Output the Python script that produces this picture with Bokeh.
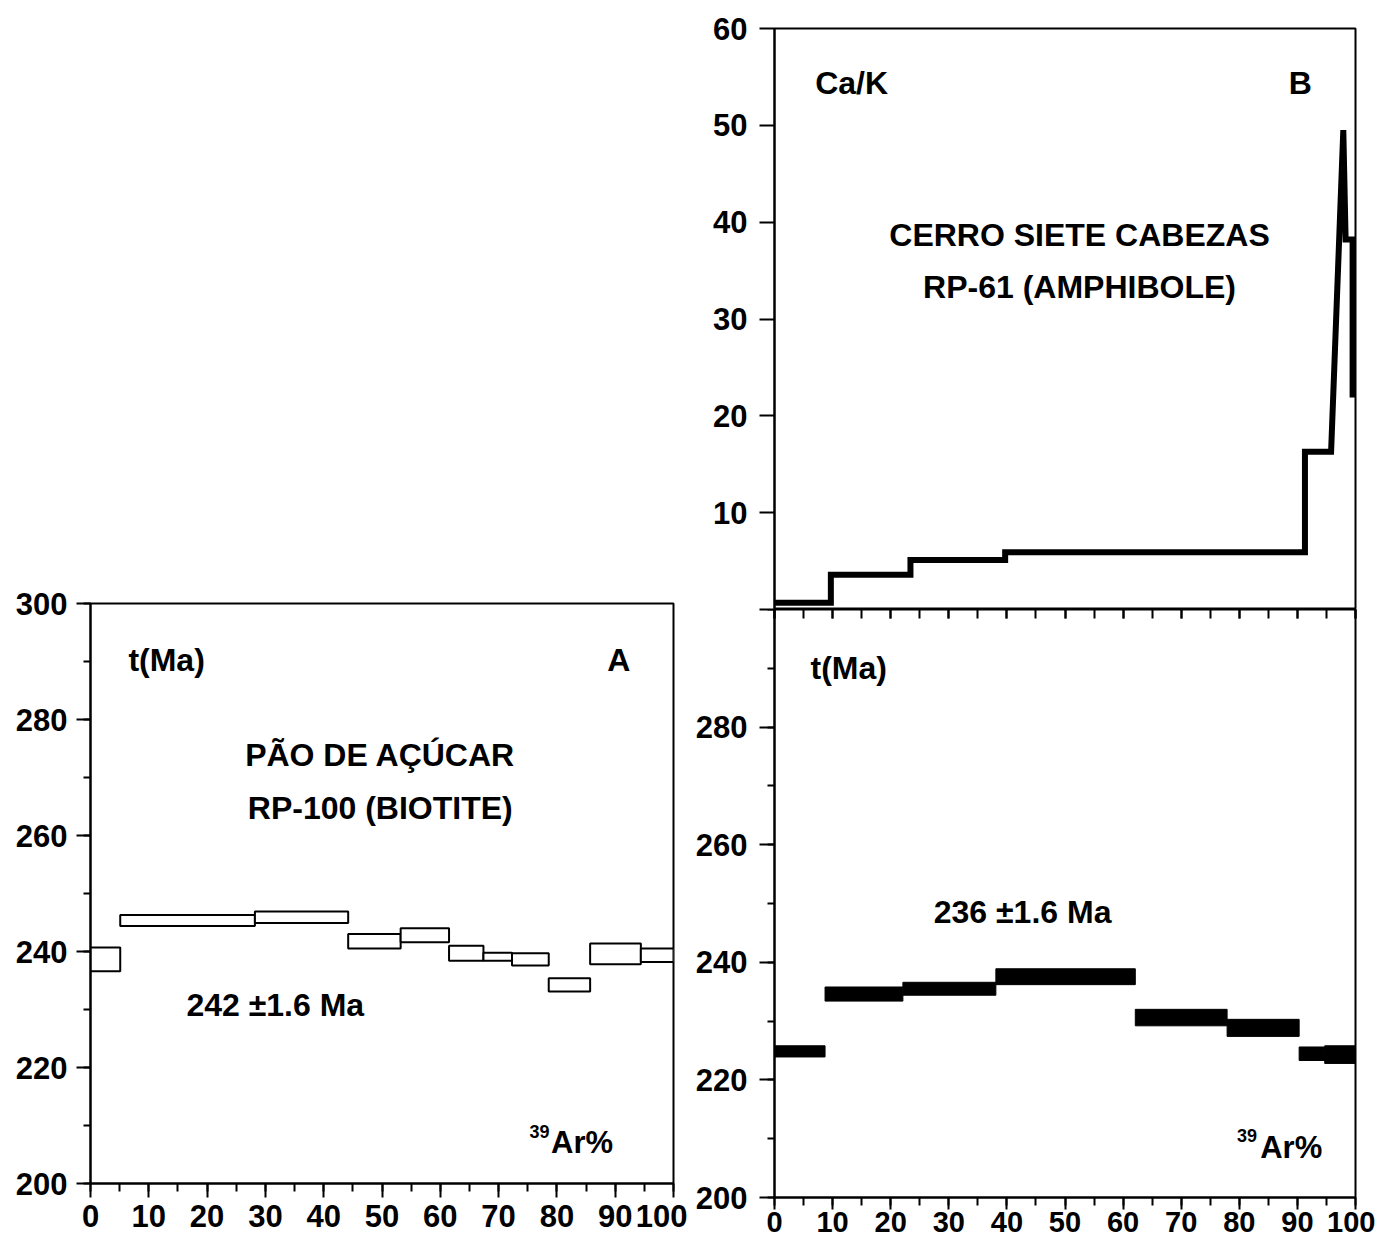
from bokeh.plotting import figure
from bokeh.layouts import row, column
from bokeh.models import SingleIntervalTicker, LinearAxis, Range1d
from bokeh.core.properties import value
from bokeh.embed import file_html
from bokeh.resources import INLINE

# ---------------- data ----------------
# Panel A : PÃO DE AÇÚCAR RP-100 (biotite) age spectrum, 39Ar% steps
a_step_left = [0, 5.1, 28.2, 44.2, 53.2, 61.5, 67.4, 72.3, 78.6, 85.7, 94.4]
a_step_right = [5.1, 28.2, 44.2, 53.2, 61.5, 67.4, 72.3, 78.6, 85.7, 94.4, 100]
a_age_top = [240.7, 246.3, 246.9, 243.0, 244.0, 241.0, 239.8, 239.7, 235.4, 241.4, 240.5]
a_age_bottom = [236.6, 244.4, 244.9, 240.5, 241.6, 238.4, 238.4, 237.6, 233.1, 237.8, 238.2]

# Panel B (lower) : CERRO SIETE CABEZAS RP-61 (amphibole) age spectrum
b_step_left = [0, 8.7, 22.1, 38.1, 62.1, 77.9, 90.3, 94.7]
b_step_right = [8.7, 22.1, 38.1, 62.1, 77.9, 90.3, 94.7, 100]
b_age_top = [225.8, 235.8, 236.6, 238.9, 232.0, 230.3, 225.6, 225.8]
b_age_bottom = [223.9, 233.4, 234.4, 236.2, 229.2, 227.4, 223.3, 222.8]

# Panel B (upper) : Ca/K spectrum (polyline vertices)
cak_x = [0, 9.7, 9.7, 23.4, 23.4, 39.7, 39.7, 91.3, 91.3, 95.8, 97.9, 98.3, 99.5, 99.5, 100.3]
cak_y = [0.7, 0.7, 3.6, 3.6, 5.1, 5.1, 5.9, 5.9, 16.3, 16.3, 49.5, 38.2, 38.2, 22.2, 22.2]

x_tick_step = 10
age_tick_step = 20
cak_tick_step = 10

FONT = "Liberation Sans"


def style_fig(p):
    p.grid.visible = False
    p.outline_line_color = "black"
    p.outline_line_width = 2
    p.background_fill_color = "white"
    p.border_fill_color = "white"


def style_axis(ax, tick_out, minor_out, standoff, size):
    ax.axis_line_color = "black"
    ax.axis_line_width = 2
    ax.major_tick_line_color = "black"
    ax.major_tick_line_width = 2
    ax.minor_tick_line_color = "black"
    ax.minor_tick_line_width = 2
    ax.major_tick_out = tick_out
    ax.major_tick_in = 0
    ax.minor_tick_out = minor_out
    ax.minor_tick_in = 0
    ax.major_label_text_font = FONT
    ax.major_label_text_font_style = "bold"
    ax.major_label_text_font_size = size
    ax.major_label_text_color = "black"
    ax.major_label_standoff = standoff


def add_text(p, x, y, txt, size, align="center"):
    p.text(x=[x], y=[y], text=[txt], text_font=value(FONT), text_font_style="bold",
           text_font_size=size, text_align=align, text_baseline="middle", text_color="black")


# ---------------- Panel A ----------------
pa = figure(width=687, height=1243, x_range=Range1d(0, 100), y_range=Range1d(200, 300),
            output_backend="svg", toolbar_location=None,
            min_border_left=90, min_border_right=14, min_border_top=603, min_border_bottom=60)
style_fig(pa)
pa.xaxis.ticker = SingleIntervalTicker(interval=x_tick_step, num_minor_ticks=2)
pa.yaxis.ticker = SingleIntervalTicker(interval=age_tick_step, num_minor_ticks=2)
style_axis(pa.xaxis[0], 14, 8, 7, "31px")
style_axis(pa.yaxis[0], 14, 7, 9, "31px")
pa.quad(left=a_step_left, right=a_step_right, top=a_age_top, bottom=a_age_bottom,
        fill_color="white", line_color="black", line_width=2)
add_text(pa, 6.5, 290.2, "t(Ma)", "32px", "left")
add_text(pa, 90.6, 290.2, "A", "32px")
add_text(pa, 49.7, 273.8, "PÃO DE AÇÚCAR", "32px")
add_text(pa, 49.7, 264.7, "RP-100 (BIOTITE)", "32px")
add_text(pa, 31.7, 230.7, "242 ±1.6 Ma", "32px")
add_text(pa, 75.3, 209.0, "39", "18px", "left")
add_text(pa, 79.0, 207.1, "Ar%", "31px", "left")

# ---------------- Panel B upper (Ca/K) ----------------
pbt = figure(width=688, height=609, x_range=Range1d(0, 100), y_range=Range1d(0, 60),
             output_backend="svg", toolbar_location=None, x_axis_location=None,
             min_border_left=87, min_border_right=20, min_border_top=28, min_border_bottom=0)
style_fig(pbt)
pbt.yaxis.ticker = SingleIntervalTicker(interval=cak_tick_step, num_minor_ticks=0)
pbt.yaxis.major_label_overrides = {0: ""}
style_axis(pbt.yaxis[0], 15, 0, 12, "31px")
pbt.line(cak_x, cak_y, line_width=6, line_color="black", line_join="miter")
add_text(pbt, 7.0, 54.4, "Ca/K", "32px", "left")
add_text(pbt, 90.5, 54.4, "B", "32px")
add_text(pbt, 52.5, 38.7, "CERRO SIETE CABEZAS", "32px")
add_text(pbt, 52.5, 33.3, "RP-61 (AMPHIBOLE)", "32px")

# ---------------- Panel B lower (age) ----------------
pbb = figure(width=688, height=634, x_range=Range1d(0, 100), y_range=Range1d(200, 300),
             output_backend="svg", toolbar_location=None,
             min_border_left=87, min_border_right=20, min_border_top=0, min_border_bottom=46)
style_fig(pbb)
pbb.xaxis.ticker = SingleIntervalTicker(interval=x_tick_step, num_minor_ticks=2)
pbb.yaxis.ticker = SingleIntervalTicker(interval=age_tick_step, num_minor_ticks=2)
pbb.yaxis.major_label_overrides = {300: ""}
style_axis(pbb.xaxis[0], 12, 8, 2, "29px")
style_axis(pbb.yaxis[0], 15, 7, 12, "31px")
top_ax = LinearAxis(ticker=SingleIntervalTicker(interval=x_tick_step, num_minor_ticks=2))
top_ax.axis_line_color = None
top_ax.major_tick_line_color = "black"
top_ax.major_tick_line_width = 2
top_ax.minor_tick_line_color = "black"
top_ax.minor_tick_line_width = 2
top_ax.major_tick_in = 9
top_ax.major_tick_out = 0
top_ax.minor_tick_in = 9
top_ax.minor_tick_out = 0
top_ax.major_label_text_font_size = "0px"
top_ax.major_label_text_color = None
top_ax.major_label_standoff = 0
pbb.add_layout(top_ax, "above")
pbb.quad(left=b_step_left, right=b_step_right, top=b_age_top, bottom=b_age_bottom,
         fill_color="black", line_color="black", line_width=1)
add_text(pbb, 6.2, 290.0, "t(Ma)", "32px", "left")
add_text(pbb, 42.7, 248.6, "236 ±1.6 Ma", "32px")
add_text(pbb, 79.6, 210.5, "39", "18px", "left")
add_text(pbb, 83.6, 208.5, "Ar%", "31px", "left")

layout = row(pa, column(pbt, pbb))
open("out.html", "w").write(file_html(layout, INLINE))
